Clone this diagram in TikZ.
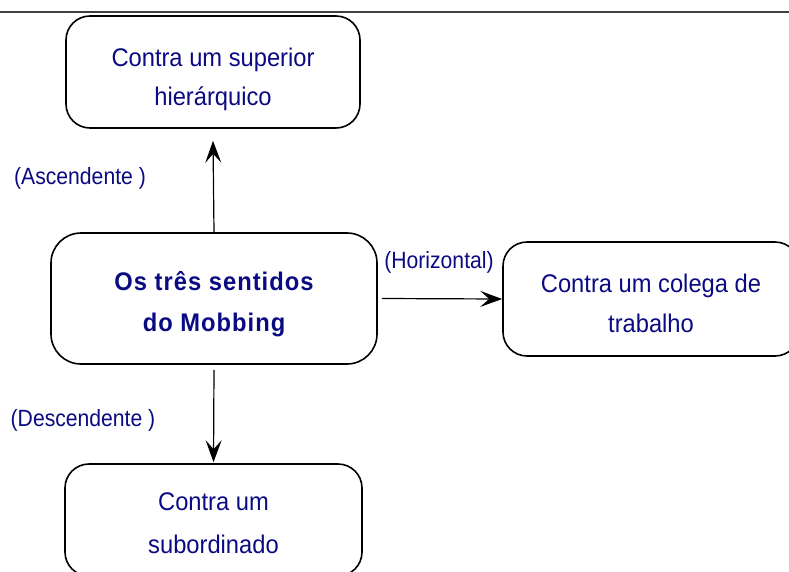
\documentclass[tikz,border=0pt]{standalone}
\usepackage{fontspec}
\setmainfont{Liberation Sans}
\newfontfamily\condfont[FakeStretch=0.93]{Liberation Sans}
\newfontfamily\lblfont[FakeStretch=0.9]{Liberation Sans}
\newfontfamily\boldcond[FakeStretch=0.93,LetterSpace=4]{Liberation Sans Bold}
\usetikzlibrary{arrows.meta}
\definecolor{navy}{RGB}{10,10,130}
\tikzset{
  box/.style={draw, line width=1.6pt, rounded corners=24pt, inner sep=0pt},
  txt/.style={align=center, font=\condfont\fontsize{25.5}{40}\selectfont, text=navy, inner sep=0pt},
  lbl/.style={font=\lblfont\fontsize{23.5}{26}\selectfont, text=navy, inner sep=0pt},
  arr/.style={line width=1.2pt, -{Stealth[length=22pt,width=16pt,inset=9pt]}}
}
\begin{document}
\begin{tikzpicture}[x=1pt,y=-1pt]
\useasboundingbox (0,0) rectangle (789,571);
\clip (0,0) rectangle (789,571);
\draw[line width=2.2pt, black!75] (0,12) -- (789,12);
\node[box, minimum width=294pt, minimum height=112pt] (top) at (213,72) {};
\node[box, rounded corners=30pt, minimum width=326pt, minimum height=131pt] (ctr) at (214,298.5) {};
\node[box, minimum width=296pt, minimum height=114pt] (rgt) at (651,299) {};
\node[box, minimum width=297pt, minimum height=112pt] (bot) at (213.5,520) {};
\node[txt, font=\condfont\fontsize{25.5}{39}\selectfont] (ttop) at ([yshift=-7.5pt]top.center) {Contra um superior\\hierárquico};
\node[txt, font=\boldcond\fontsize{25.5}{41}\selectfont] (tctr) at ([yshift=-6pt]ctr.center) {Os três sentidos\\do Mobbing};
\node[txt] (trgt) at ([yshift=-4pt]rgt.center) {Contra um colega de\\trabalho};
\node[txt, font=\condfont\fontsize{25.5}{43}\selectfont] (tbot) at ([yshift=-3pt]bot.center) {Contra um\\subordinado};
\node[lbl] (asc) at (80,178) {(Ascendente )};
\node[lbl] (hor) at (439,262) {(Horizontal)};
\node[lbl] (desc) at (83,420) {(Descendente )};
\draw[arr] (ctr.north) -- ([yshift=-12pt]top.south);
\draw[arr] ([yshift=-5pt]ctr.south) -- ([yshift=1pt]bot.north);
\draw[arr] ([xshift=4pt]ctr.east) -- (rgt.west);
\end{tikzpicture}
\end{document}
